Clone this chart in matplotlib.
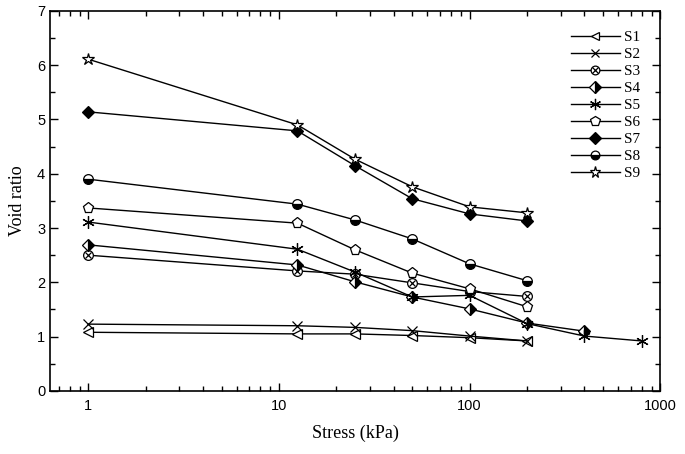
import matplotlib
matplotlib.use('Agg')
import matplotlib.pyplot as plt
from matplotlib.ticker import MultipleLocator, LogLocator, NullFormatter, FixedLocator, FixedFormatter
from matplotlib.legend_handler import HandlerTuple

# ─── Data ─────────────────────────────────────────────────────────────────────
STRESS = [1, 12.5, 25, 50, 100, 200]
S1 = [1.08, 1.05, 1.05, 1.02, 0.98, 0.92]
S2 = [1.23, 1.20, 1.17, 1.11, 1.01, 0.92]
S3 = [2.50, 2.21, 2.15, 1.99, 1.83, 1.74]
S4_X = [1, 12.5, 25, 50, 100, 200, 400]
S4 = [2.69, 2.32, 2.01, 1.73, 1.51, 1.25, 1.10]
S5_X = [1, 12.5, 25, 50, 100, 200, 400, 800]
S5 = [3.11, 2.61, 2.19, 1.73, 1.76, 1.24, 1.01, 0.92]
S6 = [3.37, 3.09, 2.60, 2.17, 1.88, 1.55]
S7 = [5.14, 4.79, 4.15, 3.54, 3.26, 3.13]
S8 = [3.90, 3.44, 3.15, 2.80, 2.34, 2.03]
S9 = [6.11, 4.90, 4.27, 3.76, 3.39, 3.28]

SERIF = 'Liberation Serif'
SANS = 'Liberation Sans'

fig = plt.figure(figsize=(6.85, 4.54), dpi=100)
ax = fig.add_axes([0.073, 0.139, 0.891, 0.837])

common = dict(color='black', lw=1.0, markeredgecolor='black', markeredgewidth=0.9)

h1, = ax.plot(STRESS, S1, marker='<', ms=7, markerfacecolor='white', **common)
h2, = ax.plot(STRESS, S2, marker='x', ms=7, **common)
h3a, = ax.plot(STRESS, S3, marker='o', ms=7, markerfacecolor='white', **common)
h3b, = ax.plot(STRESS, S3, marker='x', ms=5, ls='none', color='black', markeredgewidth=0.9)
h4, = ax.plot(S4_X, S4, marker='D', ms=6.5, fillstyle='right', markerfacecolor='black',
              markerfacecoloralt='white', **common)
h5, = ax.plot(S5_X, S5, marker=(6, 2, 0), ms=9, **common)
h6, = ax.plot(STRESS, S6, marker='p', ms=8, markerfacecolor='white', **common)
h7, = ax.plot(STRESS, S7, marker='D', ms=6.5, markerfacecolor='black', **common)
h8, = ax.plot(STRESS, S8, marker='o', ms=7, fillstyle='bottom', markerfacecolor='black',
              markerfacecoloralt='white', **common)
h9, = ax.plot(STRESS, S9, marker='*', ms=9, markerfacecolor='white', **common)

handles = [h1, h2, (h3a, h3b), h4, h5, h6, h7, h8, h9]
labels = ['S1', 'S2', 'S3', 'S4', 'S5', 'S6', 'S7', 'S8', 'S9']
ax.legend(handles, labels, loc='upper right', bbox_to_anchor=(0.99, 0.985), frameon=False,
          handlelength=3.2, handletextpad=0.3, labelspacing=0.22, markerscale=0.9,
          handler_map={tuple: HandlerTuple(ndivide=1, pad=0)},
          prop={'family': SERIF, 'size': 11})

ax.set_xscale('log')
ax.set_xlim(0.63, 1000)
ax.set_ylim(0, 7)

ax.xaxis.set_major_locator(FixedLocator([1, 10, 100, 1000]))
ax.xaxis.set_major_formatter(FixedFormatter(['1', '10', '100', '1000']))
ax.xaxis.set_minor_locator(LogLocator(base=10, subs=range(2, 10)))
ax.xaxis.set_minor_formatter(NullFormatter())
ax.yaxis.set_major_locator(MultipleLocator(1))
ax.yaxis.set_minor_locator(MultipleLocator(0.5))

ax.tick_params(which='both', direction='in', top=True, right=True, width=1.0)
ax.tick_params(which='major', length=6, labelsize=10.5)
ax.tick_params(which='minor', length=3.5)
ax.tick_params(axis='x', which='major', pad=6)
for lab in ax.get_xticklabels() + ax.get_yticklabels():
    lab.set_family(SANS)
for sp in ax.spines.values():
    sp.set_linewidth(1.2)

ax.set_xlabel('Stress (kPa)', family=SERIF, fontsize=13, labelpad=8)
ax.set_ylabel('Void ratio', family=SERIF, fontsize=13, labelpad=8)

fig.savefig('out.png', dpi=100)
